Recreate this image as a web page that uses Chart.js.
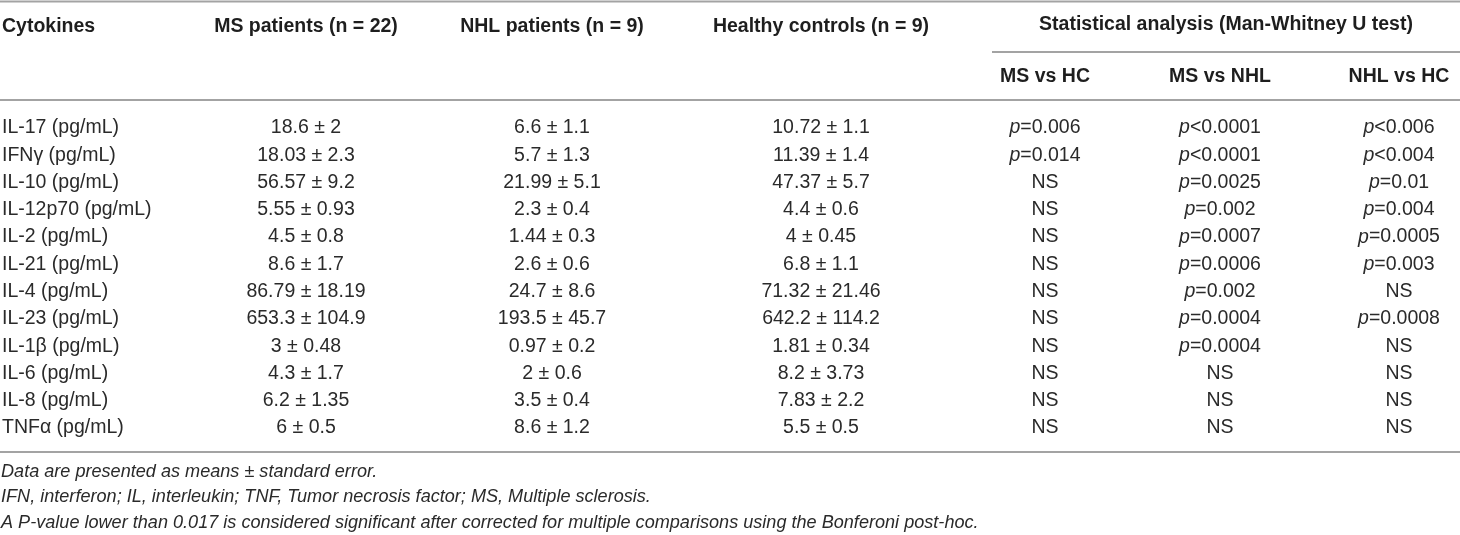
<!DOCTYPE html>
<html>
<head>
<meta charset="utf-8">
<script src="https://cdn.jsdelivr.net/npm/chart.js@4.4.1/dist/chart.umd.min.js"></script>
<style>
  html, body { margin: 0; padding: 0; background: #fff; }
  #wrap { width: 1460px; height: 535px; position: relative; }
</style>
</head>
<body>
<div id="wrap"><canvas id="cytoTable"></canvas></div>
<script>
// --- Table data ---

const cytokines = [
  "IL-17 (pg/mL)", "IFNγ (pg/mL)", "IL-10 (pg/mL)", "IL-12p70 (pg/mL)",
  "IL-2 (pg/mL)", "IL-21 (pg/mL)", "IL-4 (pg/mL)", "IL-23 (pg/mL)",
  "IL-1β (pg/mL)", "IL-6 (pg/mL)", "IL-8 (pg/mL)", "TNFα (pg/mL)"
];

// means and standard errors per group
const msMean = [18.6, 18.03, 56.57, 5.55, 4.5, 8.6, 86.79, 653.3, 3, 4.3, 6.2, 6];
const msSE = [2, 2.3, 9.2, 0.93, 0.8, 1.7, 18.19, 104.9, 0.48, 1.7, 1.35, 0.5];
const nhlMean = [6.6, 5.7, 21.99, 2.3, 1.44, 2.6, 24.7, 193.5, 0.97, 2, 3.5, 8.6];
const nhlSE = [1.1, 1.3, 5.1, 0.4, 0.3, 0.6, 8.6, 45.7, 0.2, 0.6, 0.4, 1.2];
const hcMean = [10.72, 11.39, 47.37, 4.4, 4, 6.8, 71.32, 642.2, 1.81, 8.2, 7.83, 5.5];
const hcSE = [1.1, 1.4, 5.7, 0.6, 0.45, 1.1, 21.46, 114.2, 0.34, 3.73, 2.2, 0.5];

// Man-Whitney U results
const msVsHc = ["p=0.006", "p=0.014", "NS", "NS", "NS", "NS", "NS", "NS", "NS", "NS", "NS", "NS"];
const msVsNhl = ["p<0.0001", "p<0.0001", "p=0.0025", "p=0.002", "p=0.0007", "p=0.0006",
  "p=0.002", "p=0.0004", "p=0.0004", "NS", "NS", "NS"];
const nhlVsHc = ["p<0.006", "p<0.004", "p=0.01", "p=0.004", "p=0.0005", "p=0.003",
  "NS", "p=0.0008", "NS", "NS", "NS", "NS"];

const groupHeaders = ["MS patients (n = 22)", "NHL patients (n = 9)", "Healthy controls (n = 9)"];
const statHeader = "Statistical analysis (Man-Whitney U test)";
const statSubHeaders = ["MS vs HC", "MS vs NHL", "NHL vs HC"];
const footnotes = [
  "Data are presented as means ± standard error.",
  "IFN, interferon; IL, interleukin; TNF, Tumor necrosis factor; MS, Multiple sclerosis.",
  "A P-value lower than 0.017 is considered significant after corrected for multiple comparisons using the Bonferoni post-hoc."
];

// --- Layout (pixel positions, kept apart from the data) ---

const colCenters = [306, 552, 821, 1045, 1220, 1399];
const headerRowY = 27;
const statHeaderY = 25;
const subHeaderY = 77;
const rules = [
  { y: 1.5, x0: 0, x1: 1460 },
  { y: 52, x0: 992, x1: 1460 },
  { y: 100, x0: 0, x1: 1460 },
  { y: 452, x0: 0, x1: 1460 }
];
const footnoteY = [472, 497, 523];

const FONT = "'Liberation Sans', Arial, Helvetica, sans-serif";
const BODY_SIZE = 19.5;
const NOTE_SIZE = 18.1;
const TEXT_COLOR = "#2a2a2a";
const HEAD_COLOR = "#1e1e1e";
const RULE_COLOR = "#a3a3a3";

// --- Helpers ---

function meanSeLabels(means, ses) {
  return means.map((m, i) => m + " ± " + ses[i]);
}

function cellPoints(colIndex) {
  return cytokines.map((c) => ({ x: colCenters[colIndex], y: c }));
}

// draws "p" in italic followed by the rest in roman, centred on x
function drawPValue(ctx, text, x, y) {
  if (text[0] !== "p") {
    ctx.font = BODY_SIZE + "px " + FONT;
    ctx.textAlign = "center";
    ctx.fillText(text, x, y);
    return;
  }
  const italic = "italic " + BODY_SIZE + "px " + FONT;
  const roman = BODY_SIZE + "px " + FONT;
  ctx.font = italic;
  const w1 = ctx.measureText("p").width;
  ctx.font = roman;
  const w2 = ctx.measureText(text.slice(1)).width;
  const start = x - (w1 + w2) / 2;
  ctx.textAlign = "left";
  ctx.font = italic;
  ctx.fillText("p", start, y);
  ctx.font = roman;
  ctx.fillText(text.slice(1), start + w1, y);
}

// --- Plugin: writes the cell texts, headers, rules and footnotes ---

const tableText = {
  id: "tableText",
  afterDatasetsDraw(chart) {
    const ctx = chart.ctx;
    const xs = chart.scales.x;
    ctx.save();
    ctx.textBaseline = "middle";
    ctx.fillStyle = TEXT_COLOR;

    chart.data.datasets.forEach((ds, di) => {
      const meta = chart.getDatasetMeta(di);
      meta.data.forEach((pt, i) => {
        const label = ds.cellLabels[i];
        if (ds.isStat) {
          drawPValue(ctx, label, pt.x, pt.y);
        } else {
          ctx.font = BODY_SIZE + "px " + FONT;
          ctx.textAlign = "center";
          ctx.fillText(label, pt.x, pt.y);
        }
      });
    });

    // header texts
    ctx.fillStyle = HEAD_COLOR;
    ctx.font = "bold " + BODY_SIZE + "px " + FONT;
    ctx.textAlign = "left";
    ctx.fillText("Cytokines", xs.getPixelForValue(2), headerRowY);
    ctx.textAlign = "center";
    groupHeaders.forEach((h, i) => {
      ctx.fillText(h, xs.getPixelForValue(colCenters[i]), headerRowY);
    });
    ctx.fillText(statHeader, xs.getPixelForValue(1226), statHeaderY);
    statSubHeaders.forEach((h, i) => {
      ctx.fillText(h, xs.getPixelForValue(colCenters[i + 3]), subHeaderY);
    });

    // rules
    ctx.strokeStyle = RULE_COLOR;
    ctx.lineWidth = 2;
    rules.forEach((r) => {
      ctx.beginPath();
      ctx.moveTo(xs.getPixelForValue(r.x0), r.y);
      ctx.lineTo(xs.getPixelForValue(r.x1), r.y);
      ctx.stroke();
    });

    // footnotes
    ctx.fillStyle = TEXT_COLOR;
    ctx.font = "italic " + NOTE_SIZE + "px " + FONT;
    ctx.textAlign = "left";
    footnotes.forEach((f, i) => {
      ctx.fillText(f, xs.getPixelForValue(1), footnoteY[i]);
    });
    ctx.restore();
  }
};

// --- Build chart ---

const columns = [
  { labels: meanSeLabels(msMean, msSE), stat: false },
  { labels: meanSeLabels(nhlMean, nhlSE), stat: false },
  { labels: meanSeLabels(hcMean, hcSE), stat: false },
  { labels: msVsHc, stat: true },
  { labels: msVsNhl, stat: true },
  { labels: nhlVsHc, stat: true }
];

const AXIS_W = 200;
const LEFT_PAD = 2;

new Chart(document.getElementById("cytoTable"), {
  type: "scatter",
  data: {
    datasets: columns.map((col, j) => ({
      data: cellPoints(j),
      cellLabels: col.labels,
      isStat: col.stat,
      pointRadius: 0,
      pointHoverRadius: 0
    }))
  },
  options: {
    responsive: true,
    maintainAspectRatio: false,
    animation: false,
    events: [],
    layout: { padding: { top: 114.36, bottom: 93.36, left: LEFT_PAD, right: 0 } },
    plugins: {
      legend: { display: false },
      tooltip: { enabled: false }
    },
    scales: {
      x: { type: "linear", min: AXIS_W + LEFT_PAD, max: 1460, display: false },
      y: {
        type: "category",
        labels: cytokines,
        offset: true,
        grid: { display: false },
        border: { display: false },
        afterFit(scale) { scale.width = AXIS_W; },
        ticks: {
          autoSkip: false,
          crossAlign: "far",
          padding: 0,
          color: TEXT_COLOR,
          font: { family: FONT, size: BODY_SIZE }
        }
      }
    }
  },
  plugins: [tableText]
});
</script>
</body>
</html>
